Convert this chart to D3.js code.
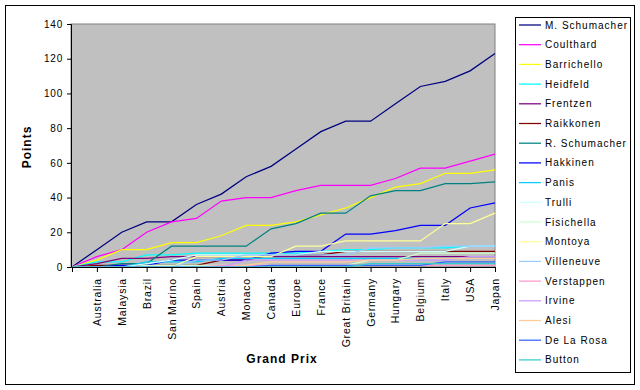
<!DOCTYPE html>
<html><head><meta charset="utf-8">
<script src="https://cdn.jsdelivr.net/npm/d3@7"></script>
<style>
body{margin:0;background:#fff;}
text{font-family:"Liberation Sans",Arial,sans-serif;fill:#000;}
</style></head>
<body>
<svg id="c" width="640" height="390"></svg>
<script>
const races = ["", "Australia","Malaysia","Brazil","San Marino","Spain","Austria","Monaco","Canada","Europe","France","Great Britain","Germany","Hungary","Belgium","Italy","USA","Japan"];
const drivers = ["M. Schumacher","Coulthard","Barrichello","Heidfeld","Frentzen","Raikkonen","R. Schumacher","Hakkinen","Panis","Trulli","Fisichella","Montoya","Villeneuve","Verstappen","Irvine","Alesi","De La Rosa","Button"];
const colors = ["#000080","#FF00FF","#FFFF00","#00FFFF","#800080","#800000","#008080","#0000FF","#00CCFF","#CCFFFF","#CCFFCC","#FFFF99","#99CCFF","#FF99CC","#CC99FF","#FFCC99","#3366FF","#33CCCC"];
const mSchumacher = [0,10,20,26,26,36,42,52,58,68,78,84,84,94,104,107,113,123];
const coulthard   = [0,6,10,20,26,28,38,40,40,44,47,47,47,51,57,57,61,65];
const barrichello = [0,4,10,10,14,14,18,24,24,26,30,34,40,46,48,54,54,56];
const heidfeld    = [0,3,3,7,7,8,8,8,8,8,9,10,10,11,11,11,12,12];
const frentzen    = [0,2,5,5,6,6,6,6,6,6,6,6,6,6,6,6,6,6];
const raikkonen   = [0,1,1,1,1,1,4,4,7,7,7,9,9,9,9,9,9,9];
const rSchumacher = [0,0,2,2,12,12,12,12,22,25,31,31,41,44,44,48,48,49];
const hakkinen    = [0,0,1,1,4,4,4,4,8,9,9,19,19,21,24,24,34,37];
const panis       = [0,0,0,3,3,3,5,5,5,5,5,5,5,5,5,5,5,5];
const trulli      = [0,0,0,2,4,7,7,7,7,7,9,9,9,9,9,9,12,12];
const fisichella  = [0,0,0,1,1,1,1,1,1,1,1,1,4,4,8,8,8,8];
const montoya     = [0,0,0,0,0,6,6,6,6,12,12,15,15,15,15,25,25,31];
const villeneuve  = [0,0,0,0,0,4,4,7,7,7,7,7,11,11,11,12,12,12];
const verstappen  = [0,0,0,0,0,0,1,1,1,1,1,1,1,1,1,1,1,1];
const irvine      = [0,0,0,0,0,0,0,4,4,4,4,4,4,4,4,4,6,6];
const alesi       = [0,0,0,0,0,0,0,1,3,3,3,3,4,4,5,5,5,5];
const deLaRosa    = [0,0,0,0,0,0,0,0,1,1,1,1,1,1,1,3,3,3];
const button      = [0,0,0,0,0,0,0,0,0,0,0,0,2,2,2,2,2,2];
const yTicks = [0,20,40,60,80,100,120,140];
const series = [mSchumacher,coulthard,barrichello,heidfeld,frentzen,raikkonen,rSchumacher,hakkinen,panis,trulli,fisichella,montoya,villeneuve,verstappen,irvine,alesi,deLaRosa,button];

const svg = d3.select("#c");
svg.append("rect").attr("x",5.5).attr("y",5.5).attr("width",629).attr("height",379)
  .attr("fill","#fff").attr("stroke","#000").attr("stroke-width",1);

const L=71, R=495, T=24, B=267;
const x = d3.scalePoint().domain(d3.range(races.length)).range([L+1,R]);
const y = d3.scaleLinear().domain([0,140]).range([B,T]);

svg.append("rect").attr("x",L).attr("y",T).attr("width",R-L).attr("height",B-T)
  .attr("fill","#C0C0C0").attr("stroke","#808080").attr("stroke-width",1);

const line = d3.line().x((d,i)=>x(i)).y(d=>y(d));
series.forEach((s,k)=>{
  svg.append("path").datum(s).attr("d",line).attr("fill","none")
    .attr("stroke",colors[k]).attr("stroke-width",1.25);
});

const ya = svg.append("g").attr("transform",`translate(${L},0)`)
  .call(d3.axisLeft(y).tickValues(yTicks).tickSize(4).tickPadding(4));
ya.select(".domain").attr("stroke","#000");
ya.selectAll("text").style("font-size","10px").style("letter-spacing","0.8px");

const xa = svg.append("g").attr("transform",`translate(0,${B})`)
  .call(d3.axisBottom(x).tickSize(5).tickFormat(""));
xa.select(".domain").attr("stroke","#000");
svg.append("g").selectAll("text").data(races).join("text")
  .attr("transform",(d,i)=>`translate(${x(i)+4},${B+11}) rotate(-90)`)
  .attr("text-anchor","end").style("font-size","10.5px").style("letter-spacing","0.8px")
  .text(d=>d);

svg.append("text").attr("x",282).attr("y",363).attr("text-anchor","middle")
  .style("font-size","12px").style("font-weight","bold").style("letter-spacing","1px").text("Grand Prix");
svg.append("text").attr("transform","translate(31,147) rotate(-90)").attr("text-anchor","middle")
  .style("font-size","12px").style("font-weight","bold").style("letter-spacing","1px").text("Points");

svg.append("rect").attr("x",515.5).attr("y",17.5).attr("width",115).attr("height",355)
  .attr("fill","#fff").attr("stroke","#000");
const lg = svg.append("g").selectAll("g").data(drivers).join("g")
  .attr("transform",(d,i)=>`translate(0,${25+i*19.7})`);
lg.append("line").attr("x1",519).attr("x2",541).attr("y1",0).attr("y2",0)
  .attr("stroke",(d,i)=>colors[i]).attr("stroke-width",1.25);
lg.append("text").attr("x",545).attr("y",3.5).style("font-size","10px").style("letter-spacing","1px").text(d=>d);
</script>
</body></html>
